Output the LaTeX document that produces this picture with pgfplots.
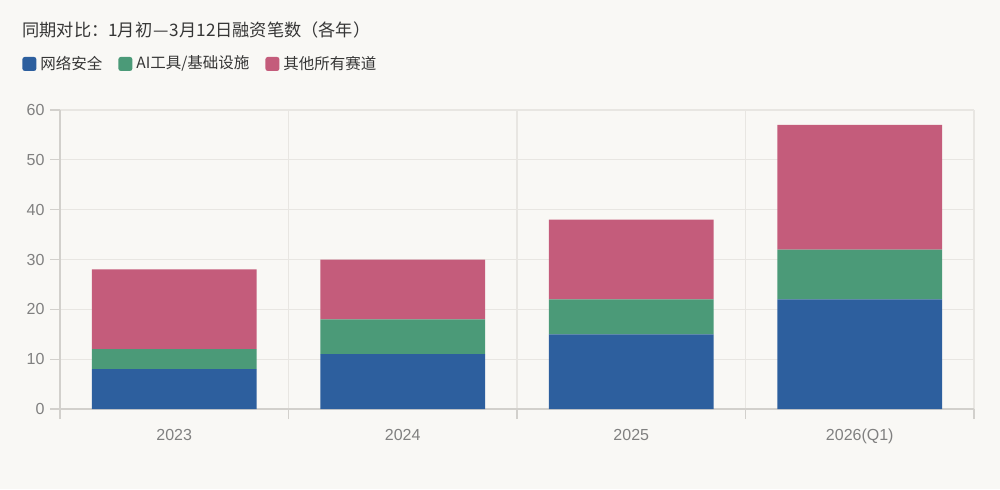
\documentclass[border=0pt]{standalone}
\usepackage{fontspec}
\setmainfont{Liberation Sans}
\newfontfamily\cjk{Noto Sans CJK SC}
\usepackage{pgfplots}
\usepackage{pgfplotstable}
\pgfplotsset{compat=1.18}
\definecolor{bg}{HTML}{F9F8F5}
\definecolor{cblue}{HTML}{2D5F9E}
\definecolor{cgreen}{HTML}{4B9A78}
\definecolor{cpink}{HTML}{C45C7B}
\definecolor{gridc}{HTML}{E8E6E2}
\definecolor{axisc}{HTML}{D2D0CC}
\definecolor{tickc}{HTML}{808080}
\definecolor{titlec}{HTML}{363636}
\pgfplotstableread{
x sec ai other
0 8 4 16
1 11 7 12
2 15 7 16
3 22 10 25
}\datatable
\begin{document}
\begin{tikzpicture}
\fill[bg] (0,0) rectangle (500pt,244.5pt);
\useasboundingbox (0,0) rectangle (500pt,244.5pt);
\node[anchor=west, text=titlec, font=\cjk\fontsize{8.6}{10}\selectfont, inner sep=0pt] at (11pt,229.5pt) {同期对比：1月初\kern0.5pt—\kern0.5pt3月12日融资笔数（各年）};
\begin{axis}[
  at={(30pt,40pt)}, anchor=south west,
  scale only axis, width=457pt, height=149.5pt,
  ybar stacked, bar width=0.72,
  xmin=-0.5, xmax=3.5, ymin=0, ymax=60,
  xtick={-0.5,0.5,...,3.5}, xticklabels={},
  extra x ticks={0,1,2,3},
  extra x tick labels={2023,2024,2025,2026(Q1)},
  extra x tick style={major tick length=0pt, grid=none},
  ytick={0,10,...,60},
  xmajorgrids=true, ymajorgrids=true,
  grid style={gridc, line width=0.6pt},
  axis x line*=bottom, axis y line*=left,
  axis line style={axisc, line width=0.7pt},
  tick style={axisc, line width=0.6pt},
  tick align=outside, major tick length=5pt,
  ticklabel style={font=\fontsize{8}{9}\selectfont, text=tickc},
  /pgf/number format/assume math mode=true,
  xticklabel style={yshift=-6.5pt},
  yticklabel style={xshift=0.8pt},
  legend style={at={(-0.0416,1.154)}, anchor=west, draw=none, fill=none,
    inner sep=0pt, font=\cjk\fontsize{7.75}{9}\selectfont, text=titlec,
    /tikz/every even column/.append style={column sep=6pt}},
  legend columns=3,
]
\addplot[fill=cblue, draw=none, legend image code/.code={\fill[cblue, rounded corners=1.2pt] (0pt,-3.5pt) rectangle (7pt,3.5pt);}] table[x=x, y=sec] {\datatable};
\addlegendentry{网络安全}
\addplot[fill=cgreen, draw=none, legend image code/.code={\fill[cgreen, rounded corners=1.2pt] (0pt,-3.5pt) rectangle (7pt,3.5pt);}] table[x=x, y=ai] {\datatable};
\addlegendentry{AI工具/基础设施}
\addplot[fill=cpink, draw=none, legend image code/.code={\fill[cpink, rounded corners=1.2pt] (0pt,-3.5pt) rectangle (7pt,3.5pt);}] table[x=x, y=other] {\datatable};
\addlegendentry{其他所有赛道}
\end{axis}
\end{tikzpicture}
\end{document}
